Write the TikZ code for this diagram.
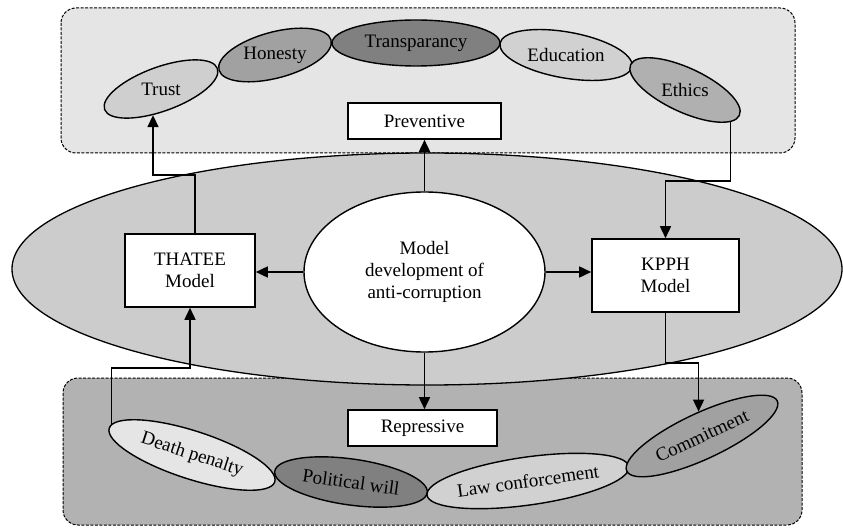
\documentclass[tikz,border=0pt]{standalone}
\usepackage{fontspec}
\setmainfont{Liberation Serif}
\usetikzlibrary{shapes.geometric,arrows.meta}
\tikzset{
box/.style={draw,line width=1.6pt,fill=white,inner sep=0pt},
oval/.style={ellipse,draw,line width=1.4pt,inner sep=0pt},
arr/.style={line width=1.6pt,-{Triangle[length=12pt,width=11pt]}},
panel/.style={draw,line width=1pt,dash pattern=on 3pt off 1.5pt,rounded corners=15pt}
}
\begin{document}
\begin{tikzpicture}[x=1pt,y=1pt,font=\fontsize{19}{22}\selectfont]
\useasboundingbox(0,0)rectangle(843,-529);
\draw[panel,fill=black!10](61,-8)rectangle(795,-153);
\draw[panel,fill=black!30](63,-378)rectangle(802,-525);
\draw[line width=1.3pt,fill=black!20](427,-269)ellipse[x radius=415pt,y radius=116pt];
\node[oval,fill=black!19,minimum width=120,minimum height=44,rotate=20](trust)at(161,-89){};
\node(trusttxt)at(trust){Trust};
\node[oval,fill=black!37,minimum width=116,minimum height=46,rotate=15](honesty)at(275,-55){};
\node(honestytxt)at(honesty){Honesty};
\node[oval,fill=black!50,minimum width=168,minimum height=46](transp)at(416,-43){};
\node(transptxt)at(transp){Transparancy};
\node[oval,fill=black!18,minimum width=134,minimum height=46,rotate=-10](educ)at(566,-55){};
\node(eductxt)at(educ){Education};
\node[oval,fill=black!31,minimum width=120,minimum height=44,rotate=-25](ethics)at(685,-90){};
\node(ethicstxt)at(ethics){Ethics};
\node[box,minimum width=153,minimum height=36](prev)at(424.5,-121){Preventive};
\node[box,minimum width=149,minimum height=36](repr)at(422.5,-428){Repressive};
\node[box,minimum width=130,minimum height=73,align=center](thatee)at(190,-270.5){THATEE\\Model};
\node[box,minimum width=147,minimum height=73,align=center](kpph)at(665.5,-275.5){KPPH\\Model};
\node[oval,fill=white,minimum width=241,minimum height=160,align=center](model)at(424.5,-272){Model\\development of\\anti-corruption};
\node[oval,fill=black!10,minimum width=174,minimum height=48,rotate=-18](death)at(192,-455){Death penalty};
\node[oval,fill=black!50,minimum width=154,minimum height=46,rotate=-8](polit)at(351,-482){Political will};
\node[oval,fill=black!18,minimum width=204,minimum height=48,rotate=8](law)at(528,-481){Law conforcement};
\node[oval,fill=black!37,minimum width=166,minimum height=46,rotate=25](commit)at(702,-436){Commitment};
\draw[arr]([xshift=5pt]thatee.north)--++(0,58)-|(trust.233);
\draw[arr](ethics.350)--++(0,-59)-|(kpph.north);
\draw[arr](kpph.south)--++(0,-50)-|(commit.73);
\draw[arr](death.177)--++(0,56)-|(thatee.south);
\draw[arr](model.west)--(model.west-|thatee.east);
\draw[arr](model.east)--(model.east-|kpph.west);
\draw[arr](model.north)--(model.north|-prev.south);
\draw[arr](model.south)--(model.south|-repr.north);
\end{tikzpicture}
\end{document}
